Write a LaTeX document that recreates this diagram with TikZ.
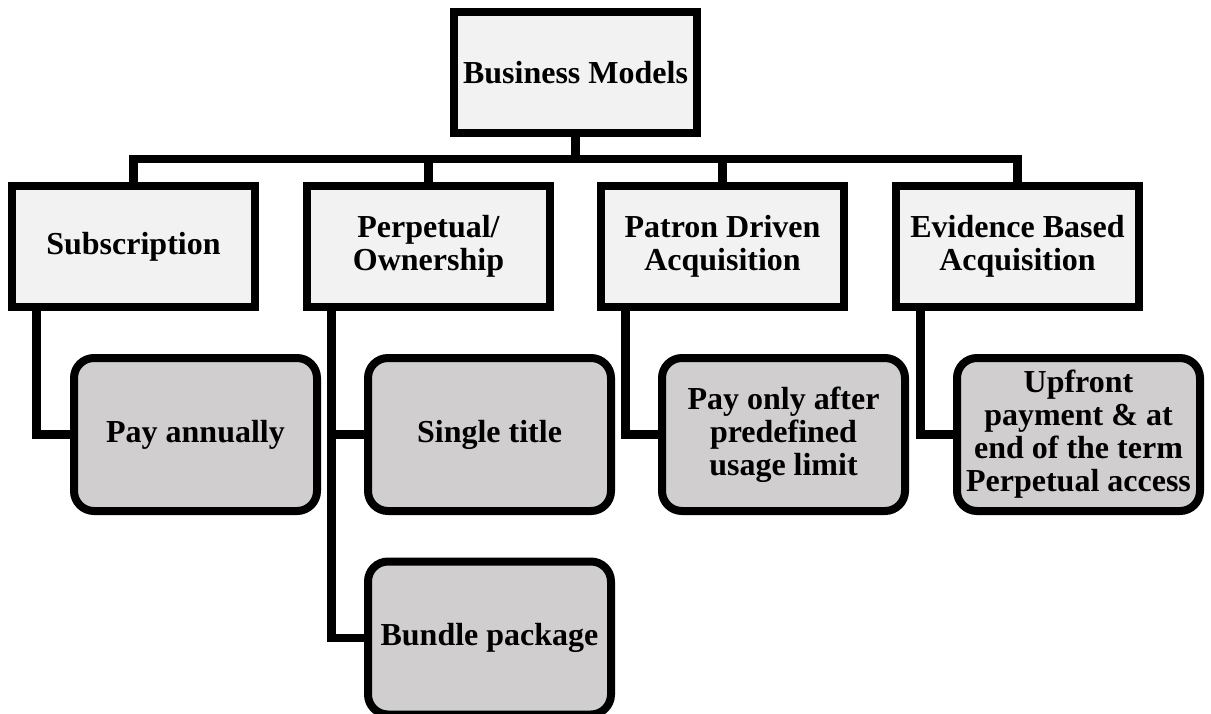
\documentclass[tikz,border=0pt]{standalone}
\usepackage{fontspec}
\setmainfont{Liberation Serif}
\usetikzlibrary{calc}
\definecolor{catfill}{HTML}{F2F2F2}
\definecolor{leaffill}{HTML}{D0CECE}
\begin{document}
\begin{tikzpicture}[x=1pt,y=-1pt,
  every node/.style={font=\bfseries\fontsize{32}{33}\selectfont, align=center, inner sep=0pt},
  catbox/.style={draw=black, line width=8pt, fill=catfill, minimum width=243pt, minimum height=121pt},
  leafbox/.style={draw=black, line width=8pt, fill=leaffill, rounded corners=20pt, minimum width=243pt, minimum height=153pt},
  link/.style={draw=black, line width=8.5pt}]
\useasboundingbox (0,0) rectangle (1211,713);

% root
\node[catbox] (root) at (575.5,72.5) {Business Models};

% categories
\node[catbox] (sub) at (133.5,246.5) {Subscription};
\node[catbox] (perp) at (428.5,246.5) {Perpetual/\\Ownership};
\node[catbox] (pda) at (722.5,246.5) {Patron Driven\\Acquisition};
\node[catbox] (eba) at (1017.5,246.5) {Evidence Based\\Acquisition};

% leaves
\node[leafbox] (subc) at (195.5,434.5) {Pay annually};
\node[leafbox] (single) at (489.5,434.5) {Single title};
\node[leafbox] (bundle) at (489.5,638) {Bundle package};
\node[leafbox] (pdac) at (783.5,434.5) {Pay only after\\predefined\\usage limit};
\node[leafbox] (ebac) at (1078.5,434.5) {Upfront\\payment \& at\\end of the term\\Perpetual access};

% bus from the root to the categories
\coordinate (bus) at ($(root.south)+(0,22)$);
\path[link] (root.south) -- (bus) -| (sub.north);
\path[link] (bus) -| (perp.north);
\path[link] (bus) -| (pda.north);
\path[link] (bus) -| (eba.north);

% category to leaf connectors
\coordinate (subx) at ($(sub.south west)+(28.5,0)$);
\coordinate (perpx) at ($(perp.south west)+(28.5,0)$);
\coordinate (pdax) at ($(pda.south west)+(28.5,0)$);
\coordinate (ebax) at ($(eba.south west)+(28.5,0)$);
\path[link] (subx) |- (subc.west);
\path[link] (perpx) |- (bundle.west);
\path[link] (single.west -| perpx) -- (single.west);
\path[link] (pdax) |- (pdac.west);
\path[link] (ebax) |- (ebac.west);
\end{tikzpicture}
\end{document}
